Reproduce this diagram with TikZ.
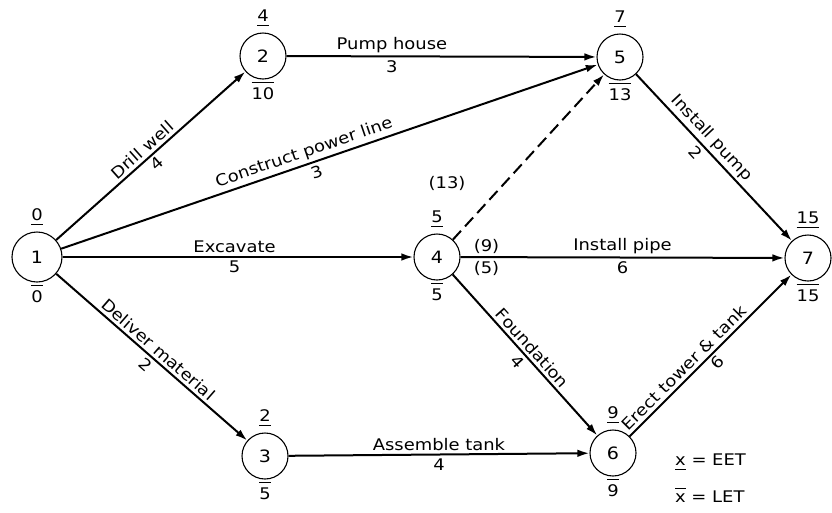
\documentclass[tikz,border=0pt]{standalone}
\usepackage{fontspec}
\setmainfont[FakeStretch=1.12]{DejaVu Sans}
\usetikzlibrary{arrows.meta,positioning}
% earliest time: number with a rule under it; latest time: rule over the number
\newcommand{\eettime}[1]{\vtop{\hbox{#1}\kern3.5pt\hrule height 1pt}}
\newcommand{\lettime}[1]{\vbox{\hrule height 1pt\kern5pt\hbox{#1}}}
\begin{document}
\begin{tikzpicture}[x=1pt,y=-1pt,
  event/.style={circle,draw,line width=1.1pt,minimum size=46pt,inner sep=0pt,
    font=\fontsize{17}{19}\selectfont},
  act/.style={line width=2pt,-{Latex[length=12pt,width=7.5pt]}},
  dummy/.style={act,dash pattern=on 12pt off 6pt},
  lab/.style={font=\fontsize{16}{18}\selectfont,inner sep=3pt},
  tim/.style={font=\fontsize{16}{18}\selectfont,inner sep=0pt},
]
\useasboundingbox (0,0) rectangle (832,512);

% events
\node[event,minimum size=50pt] (n1) at (37,257) {1};
\node[event] (n2) at (263,56) {2};
\node[event] (n3) at (265,456) {3};
\node[event] (n4) at (437,257) {4};
\node[event] (n5) at (620,57) {5};
\node[event] (n6) at (613,453) {6};
\node[event] (n7) at (808,258) {7};

% earliest (above) and latest (below) event times
\foreach \n/\e/\l in {1/0/0, 2/4/10, 3/2/5, 4/5/5, 5/7/13, 6/9/9, 7/15/15}{
  \node[tim,above=6pt of n\n] (e\n) {\eettime{\e}};
  \node[tim,below=2pt of n\n] (l\n) {\lettime{\l}};
}

% activities
\draw[act] (n1) -- node[lab,sloped,above,pos=.49]{Drill well}
                   node[lab,sloped,below,pos=.5]{4} (n2);
\draw[act] (n1) -- node[lab,sloped,above,pos=.46]{Construct power line}
                   node[lab,sloped,below,pos=.47]{3} (n5);
\draw[act] (n1) -- node[lab,above,pos=.49]{Excavate}
                   node[lab,below,pos=.49]{5} (n4);
\draw[act] (n1) -- node[lab,sloped,above,pos=.5]{Deliver material}
                   node[lab,sloped,below,pos=.5]{2} (n3);
\draw[act] (n2) -- node[lab,above,pos=.34]{Pump house}
                   node[lab,below,pos=.34]{3} (n5);
\draw[dummy] (n4) -- (n5);
\node[lab] (d13) at (447,183) {(13)};
\draw[act] (n4) -- node[lab,above,pos=.5]{Install pipe}
                   node[lab,below,pos=.5]{6}
                   node[lab,above,pos=.08]{(9)}
                   node[lab,below,pos=.08]{(5)} (n7);
\draw[act] (n4) -- node[lab,sloped,above,pos=.5]{Foundation}
                   node[lab,sloped,below,pos=.5]{4} (n6);
\draw[act] (n3) -- node[lab,above,pos=.5]{Assemble tank}
                   node[lab,below,pos=.5]{4} (n6);
\draw[act] (n5) -- node[lab,sloped,above,pos=.43]{Install pump}
                   node[lab,sloped,below,pos=.43]{2} (n7);
\draw[act] (n6) -- node[lab,sloped,above,pos=.38]{Erect tower \& tank}
                   node[lab,sloped,below,pos=.5]{6} (n7);

% key
\node[lab,anchor=west] (k1) at (672,462) {\eettime{x} = EET};
\node[lab,anchor=west] (k2) at (672,495) {\lettime{x} = LET};
\end{tikzpicture}
\end{document}
